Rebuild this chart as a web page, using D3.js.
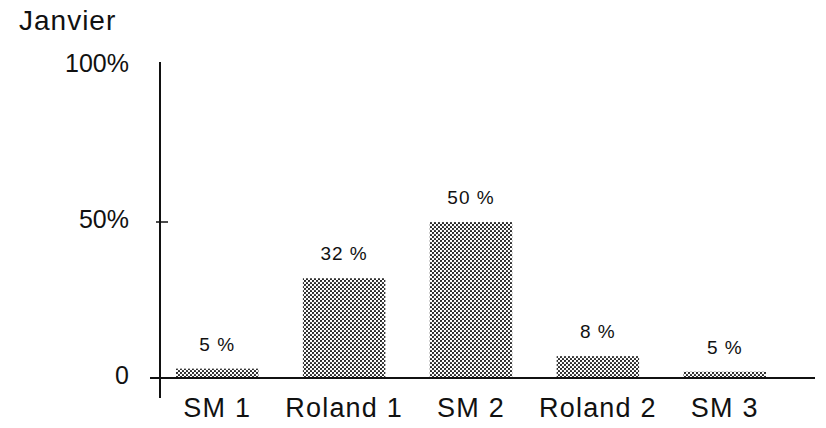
<!DOCTYPE html>
<html>
<head>
<meta charset="utf-8">
<script src="https://cdn.jsdelivr.net/npm/d3@7"></script>
<style>
  html, body { margin: 0; padding: 0; background: #fff; }
  svg { display: block; font-family: "Liberation Sans", Arial, Helvetica, sans-serif; }
</style>
</head>
<body>
<svg id="chart" width="826" height="428"></svg>
<script>
const title = "Janvier";
const categories = ["SM 1", "Roland 1", "SM 2", "Roland 2", "SM 3"];
const values = [3, 32, 50, 7, 2];
const valueLabels = ["5 %", "32 %", "50 %", "8 %", "5 %"];
const tickValues = [0, 50, 100];
const tickLabels = ["0", "50%", "100%"];

const svg = d3.select("#chart");

// pattern for stippled bars
const defs = svg.append("defs");
const pat = defs.append("pattern")
  .attr("id", "dots").attr("patternUnits", "userSpaceOnUse")
  .attr("width", 4).attr("height", 4);
pat.append("rect").attr("width", 4).attr("height", 4).attr("fill", "#fff");
pat.append("circle").attr("cx", 1).attr("cy", 1).attr("r", 1.1).attr("fill", "#1a1a1a");
pat.append("circle").attr("cx", 3).attr("cy", 3).attr("r", 1.1).attr("fill", "#1a1a1a");

const y = d3.scaleLinear().domain([0, 100]).range([378, 66]);
const x = d3.scaleBand().domain(categories).range([176, 766]).paddingInner(0.35).paddingOuter(0);

// title
svg.append("text").attr("x", 19).attr("y", 30)
  .attr("font-size", 28).attr("letter-spacing", 1).attr("fill", "#111").text(title);

// bars
svg.selectAll("rect.bar").data(values).enter().append("rect")
  .attr("class", "bar")
  .attr("x", (d, i) => x(categories[i]))
  .attr("width", x.bandwidth())
  .attr("y", d => y(d))
  .attr("height", d => y(0) - y(d))
  .attr("fill", "url(#dots)");

// value labels
svg.selectAll("text.val").data(values).enter().append("text")
  .attr("class", "val")
  .attr("x", (d, i) => x(categories[i]) + x.bandwidth() / 2)
  .attr("y", d => y(d) - 18)
  .attr("text-anchor", "middle")
  .attr("font-size", 19).attr("letter-spacing", 1).attr("fill", "#111")
  .text((d, i) => valueLabels[i]);

// x axis line
svg.append("line").attr("x1", 150).attr("x2", 815)
  .attr("y1", y(0)).attr("y2", y(0))
  .attr("stroke", "#111").attr("stroke-width", 2);

// y axis line
svg.append("line").attr("x1", 160).attr("x2", 160)
  .attr("y1", y(100) - 4).attr("y2", y(0) + 20)
  .attr("stroke", "#111").attr("stroke-width", 2);

// ticks
svg.append("line").attr("x1", 156).attr("x2", 168)
  .attr("y1", y(50)).attr("y2", y(50))
  .attr("stroke", "#111").attr("stroke-width", 1.5);
svg.append("line").attr("x1", 151).attr("x2", 160)
  .attr("y1", y(0)).attr("y2", y(0))
  .attr("stroke", "#111").attr("stroke-width", 2);

// tick labels
svg.selectAll("text.tick").data(tickValues).enter().append("text")
  .attr("class", "tick")
  .attr("x", 129)
  .attr("y", d => y(d))
  .attr("dy", "0.25em")
  .attr("text-anchor", "end")
  .attr("font-size", 25).attr("fill", "#111")
  .text((d, i) => tickLabels[i]);

// category labels
svg.selectAll("text.cat").data(categories).enter().append("text")
  .attr("class", "cat")
  .attr("x", d => x(d) + x.bandwidth() / 2)
  .attr("y", 417)
  .attr("text-anchor", "middle")
  .attr("font-size", 27).attr("letter-spacing", 1.2).attr("fill", "#111")
  .text(d => d);
</script>
</body>
</html>
